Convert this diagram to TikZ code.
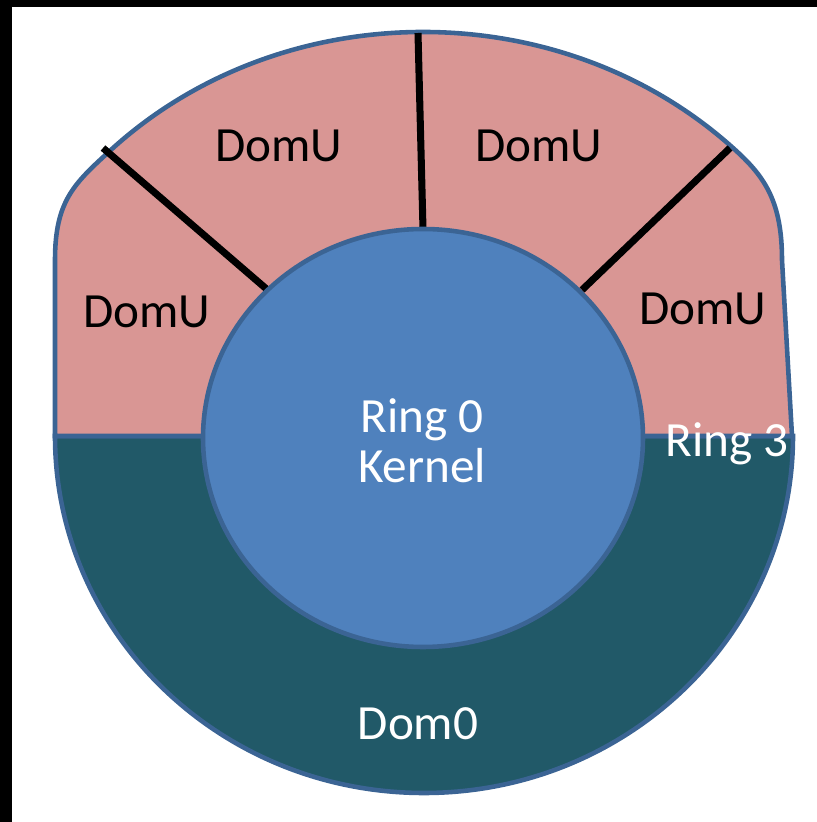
\documentclass[tikz,border=0pt]{standalone}
\usepackage{fontspec}
\setmainfont{Carlito}
\definecolor{domupink}{HTML}{D99694}
\definecolor{domzeroteal}{HTML}{215968}
\definecolor{kernelblue}{HTML}{4F81BD}
\definecolor{edgeblue}{HTML}{3B6494}

\begin{document}
\begin{tikzpicture}[
    region/.style={draw=edgeblue, line width=1.3pt},
    divider/.style={black, line width=2pt},
    domlabel/.style={font=\fontsize{14}{17}\selectfont, anchor=base, inner sep=0pt}
]
    \useasboundingbox (0,0) rectangle (8.17,8.22);
    % black frame on top and left
    \fill[black] (0,8.145) rectangle (8.17,8.22);
    \fill[black] (0,0) rectangle (0.117,8.22);

    % Dom0, lower half
    \draw[region, fill=domzeroteal] (0.55,3.86) arc[start angle=180, end angle=360, x radius=3.69, y radius=3.57] -- cycle;
    % DomU, upper part
    \draw[region, fill=domupink] (0.55,3.86) -- (0.55,5.62)
        .. controls (0.55,6.22) and (0.75,6.39) .. (1.105,6.717)
        arc[start angle=135, end angle=45, x radius=4.42, y radius=4.04]
        .. controls (7.65,6.45) and (7.82,6.2) .. (7.82,5.62)
        -- (7.92,3.86) -- cycle;

    % dividers between the DomU
    \coordinate (ltop) at (1.03,6.74);
    \coordinate (lbot) at (2.70,5.30);
    \coordinate (mtop) at (4.18,7.89);
    \coordinate (mbot) at (4.23,5.93);
    \coordinate (rtop) at (7.30,6.74);
    \coordinate (rbot) at (5.82,5.32);
    \draw[divider] (ltop) -- (lbot);
    \draw[divider] (mtop) -- (mbot);
    \draw[divider] (rtop) -- (rbot);

    % kernel
    \draw[region, fill=kernelblue] (4.23,3.84) ellipse[x radius=2.20, y radius=2.09];

    \node[domlabel] (domuleft) at (1.47,4.94) {DomU};
    \node[domlabel] (domutopleft) at (2.79,6.60) {DomU};
    \node[domlabel] (domutopright) at (5.39,6.60) {DomU};
    \node[domlabel] (domuright) at (7.03,4.97) {DomU};
    \node[domlabel, white] (ringzero) at (4.22,3.90) {Ring 0};
    \node[domlabel, white] (kernel) at (4.22,3.39) {Kernel};
    \node[domlabel, white] (ringthree) at (7.27,3.65) {Ring 3};
    \node[domlabel, white] (domzero) at (4.18,0.82) {Dom0};
\end{tikzpicture}
\end{document}
